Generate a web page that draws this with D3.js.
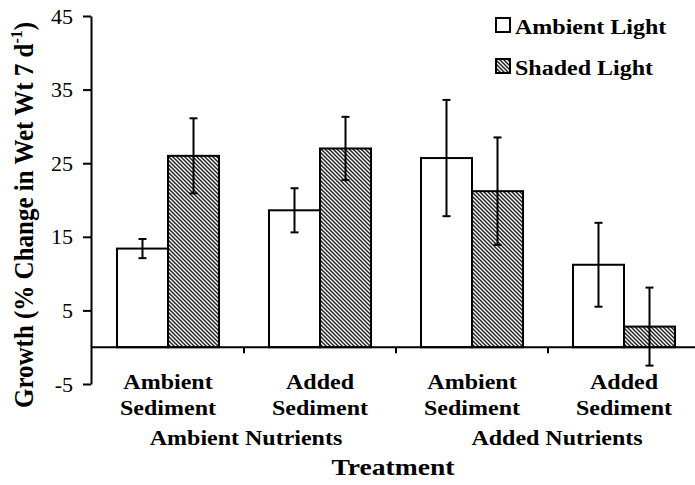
<!DOCTYPE html>
<html lang="en">
<head>
    <meta charset="UTF-8">
    <title>Growth by Treatment</title>
    <style>
        body { margin: 0; background: #fff; }
        svg text { font-family: "Liberation Serif", "Times New Roman", serif; fill: #000; }
        .bold { font-weight: bold; }
    </style>
</head>
<body>
    <div id="chart"></div>
    <script src="https://d3js.org/d3.v7.min.js"></script>
    <script>
        // Data
        const groups = ["AN-AS", "AN-DS", "DN-AS", "DN-DS"];
        const groupLines = [["Ambient", "Sediment"], ["Added", "Sediment"], ["Ambient", "Sediment"], ["Added", "Sediment"]];
        const series = ["Ambient Light", "Shaded Light"];
        const ambientMean = [13.4, 18.6, 25.7, 11.2];
        const ambientErr = [1.3, 3.0, 7.9, 5.7];
        const shadedMean = [26.0, 27.0, 21.2, 2.8];
        const shadedErr = [5.1, 4.3, 7.3, 5.3];
        const nutrientLabels = ["Ambient Nutrients", "Added Nutrients"];
        const yTicks = [-5, 5, 15, 25, 35, 45];

        const width = 695, height = 485;
        const mLeft = 91, mRight = 700, mTop = 16, mBottom = 384;
        const sx = 1.2; // the original lettering is a bit wider than plain Times

        const svg = d3.select("#chart").append("svg")
            .attr("width", width)
            .attr("height", height);

        // places a bold label, stretched horizontally
        function label(x, yPos, str, size, anchor) {
            return svg.append("g")
                .attr("transform", "translate(" + x + "," + yPos + ") scale(" + sx + ",1)")
                .append("text")
                .attr("class", "bold")
                .attr("text-anchor", anchor || "middle")
                .style("font-size", size + "px")
                .text(str);
        }

        // hatch pattern for shaded bars
        const defs = svg.append("defs");
        const pat = defs.append("pattern")
            .attr("id", "hatch")
            .attr("patternUnits", "userSpaceOnUse")
            .attr("width", 4)
            .attr("height", 4);
        pat.append("rect").attr("width", 4).attr("height", 4).attr("fill", "#fff");
        pat.append("path")
            .attr("d", "M0,0 L4,4 M-1,3 L1,5 M3,-1 L5,1")
            .attr("stroke", "#222")
            .attr("stroke-width", 1.5);

        const y = d3.scaleLinear().domain([-5, 45]).range([mBottom, mTop]);
        const x0 = d3.scaleBand().domain(groups).range([mLeft + 1, mRight]);
        const x1 = d3.scaleBand().domain(series).range([0, x0.bandwidth()]).paddingOuter(0.49);

        const rows = groups.map((g, i) => ({
            group: g,
            values: [
                { s: series[0], v: ambientMean[i], e: ambientErr[i] },
                { s: series[1], v: shadedMean[i], e: shadedErr[i] }
            ]
        }));

        // bars
        const gGroup = svg.selectAll(".grp")
            .data(rows)
            .enter().append("g")
            .attr("transform", d => "translate(" + x0(d.group) + ",0)");

        gGroup.selectAll("rect")
            .data(d => d.values)
            .enter().append("rect")
            .attr("x", d => x1(d.s))
            .attr("y", d => y(Math.max(0, d.v)))
            .attr("width", x1.bandwidth())
            .attr("height", d => Math.abs(y(d.v) - y(0)))
            .attr("fill", d => d.s === series[0] ? "#fff" : "url(#hatch)")
            .attr("stroke", "#000")
            .attr("stroke-width", 2);

        // error bars
        const eb = gGroup.selectAll(".err")
            .data(d => d.values)
            .enter().append("g")
            .attr("stroke", "#000")
            .attr("stroke-width", 2);
        const cx = d => x1(d.s) + x1.bandwidth() / 2;
        eb.append("line")
            .attr("x1", cx).attr("x2", cx)
            .attr("y1", d => y(d.v + d.e)).attr("y2", d => y(d.v - d.e));
        eb.append("line")
            .attr("x1", d => cx(d) - 4).attr("x2", d => cx(d) + 4)
            .attr("y1", d => y(d.v + d.e)).attr("y2", d => y(d.v + d.e));
        eb.append("line")
            .attr("x1", d => cx(d) - 4).attr("x2", d => cx(d) + 4)
            .attr("y1", d => y(d.v - d.e)).attr("y2", d => y(d.v - d.e));

        // y axis
        const yAxis = svg.append("g")
            .attr("transform", "translate(" + mLeft + ",0)")
            .call(d3.axisLeft(y).tickValues(yTicks).tickFormat(d => String(d))
                .tickSize(8).tickSizeOuter(0).tickPadding(10));
        yAxis.select(".domain").attr("stroke-width", 2);
        yAxis.selectAll(".tick line").attr("stroke-width", 2);
        yAxis.selectAll(".tick text")
            .style("font-family", "'Liberation Serif', serif")
            .style("font-size", "22px")
            .attr("fill", "#000");

        // x axis at zero
        const xAxis = svg.append("g").attr("transform", "translate(0," + y(0) + ")");
        xAxis.append("line")
            .attr("x1", mLeft).attr("x2", width)
            .attr("stroke", "#000").attr("stroke-width", 2);
        xAxis.selectAll(".xt")
            .data(groups.slice(1))
            .enter().append("line")
            .attr("x1", d => x0(d)).attr("x2", d => x0(d))
            .attr("y1", 0).attr("y2", 6)
            .attr("stroke", "#000").attr("stroke-width", 2);

        // category labels
        groups.forEach((g, i) => {
            const xc = x0(g) + x0.bandwidth() / 2;
            groupLines[i].forEach((ln, k) => label(xc, 389 + k * 26, ln, 20));
        });

        nutrientLabels.forEach((d, i) => {
            label(x0(groups[i * 2 + 1]) + (i === 0 ? 2 : 9), 445, d, 20);
        });

        label(393, 475, "Treatment", 23);

        // y title
        const yt = svg.append("g")
            .attr("transform", "translate(33,215) scale(1.1,1) rotate(-90)")
            .append("text")
            .attr("class", "bold")
            .attr("text-anchor", "middle")
            .style("font-size", "25px");
        yt.append("tspan").text("Growth (% Change in Wet Wt 7 d");
        yt.append("tspan").attr("dy", -10).style("font-size", "16px").text("-1");
        yt.append("tspan").attr("dy", 10).text(")");

        // legend
        series.forEach((s, i) => {
            svg.append("rect")
                .attr("x", 496).attr("y", 18 + i * 41)
                .attr("width", 14).attr("height", 14)
                .attr("fill", i === 0 ? "#fff" : "url(#hatch)")
                .attr("stroke", "#000").attr("stroke-width", 2);
            label(515, 34 + i * 41, s, 20, "start");
        });
    </script>
</body>
</html>
